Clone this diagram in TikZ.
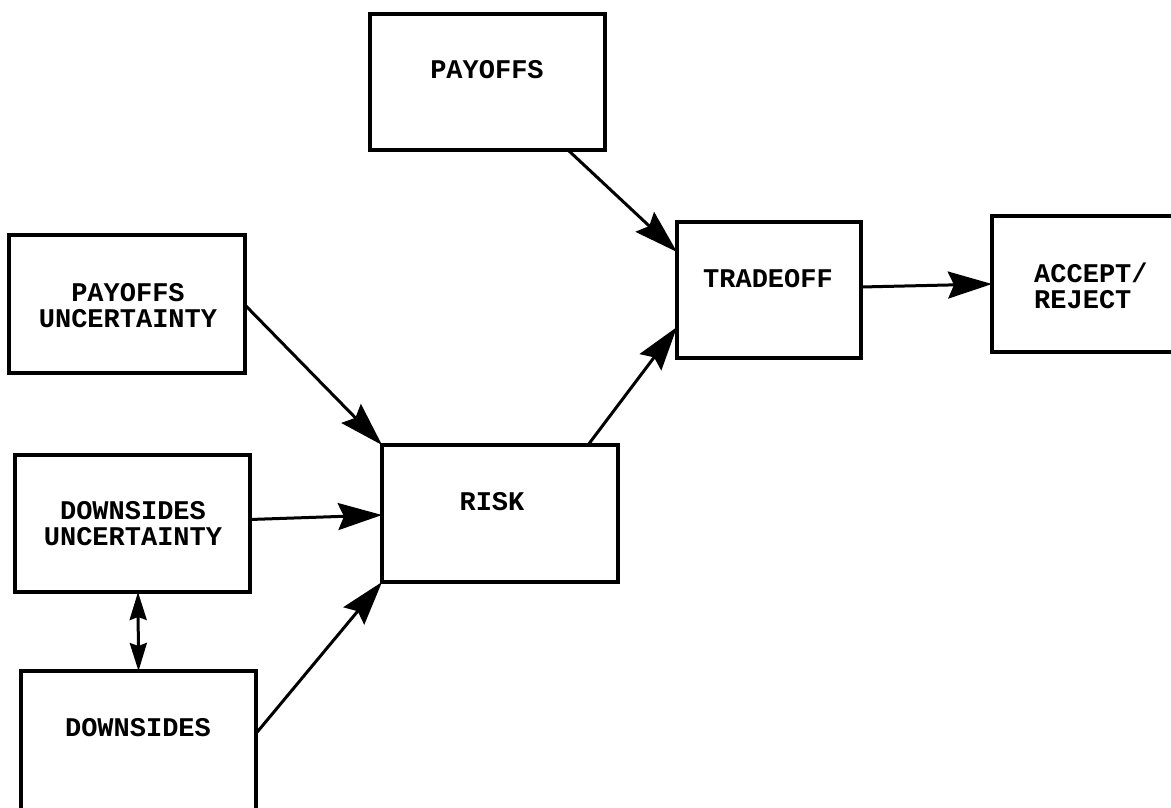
\documentclass[tikz,border=0pt]{standalone}
\usepackage{fontspec}
\setmonofont{Liberation Mono}
\usetikzlibrary{arrows.meta,calc}
\begin{document}
\begin{tikzpicture}[x=1pt,y=-1pt,
  box/.style={draw, rectangle, line width=3.5pt, inner sep=0pt, outer sep=0pt},
  lbl/.style={font=\ttfamily\bfseries\fontsize{27}{26}\selectfont, align=center, inner sep=0pt},
  conn/.style={line width=3pt, -{Stealth[length=44pt,width=27pt,inset=6pt]}},
  dbl/.style={line width=3pt, {Stealth[length=28pt,width=17pt,inset=3pt]}-{Stealth[length=28pt,width=17pt,inset=3pt]}}]
\useasboundingbox (0,0) rectangle (1171,808);
\clip (0,0) rectangle (1171,808);
% boxes
\node[box, minimum width=235pt, minimum height=136pt] (pay) at (487.5,82) {};
\node[box, minimum width=184pt, minimum height=136pt] (trade) at (769,290) {};
\node[box, minimum width=203pt, minimum height=136pt] (acc) at (1093.5,284) {};
\node[box, minimum width=236pt, minimum height=138pt] (pu) at (127,304) {};
\node[box, minimum width=236pt, minimum height=137pt] (risk) at (500,513.5) {};
\node[box, minimum width=235pt, minimum height=137pt] (du) at (132.5,523.5) {};
\node[box, minimum width=235pt, minimum height=159pt] (down) at (138.5,750.5) {};
% labels
\node[lbl] (payl) at (487,70) {PAYOFFS};
\node[lbl] (tradel) at (768,279) {TRADEOFF};
\node[lbl, align=left, anchor=west] (accl) at (1034,285.5) {ACCEPT/\\REJECT};
\node[lbl] (pul) at (128,306) {PAYOFFS\\UNCERTAINTY};
\node[lbl] (riskl) at (492,502) {RISK};
\node[lbl] (dul) at (133,523.5) {DOWNSIDES\\UNCERTAINTY};
\node[lbl] (downl) at (138,728) {DOWNSIDES};
% connectors
\draw[conn] ([xshift=-37pt]pay.south east) -- ([yshift=-30pt]trade.north west);
\draw[conn] ([xshift=-30pt]risk.north east) -- ([yshift=31pt]trade.south west);
\draw[conn] ([yshift=-1pt]pu.east) -- (risk.north west);
\draw[conn] ([yshift=4pt]du.east) -- ([yshift=-1.5pt]risk.west);
\draw[conn] ([yshift=17pt]down.east) -- (risk.south west);
\draw[conn] ([yshift=3pt]trade.east) -- (acc.west);
\draw[dbl] ([xshift=5.5pt]du.south) -- (down.north);
\end{tikzpicture}
\end{document}
